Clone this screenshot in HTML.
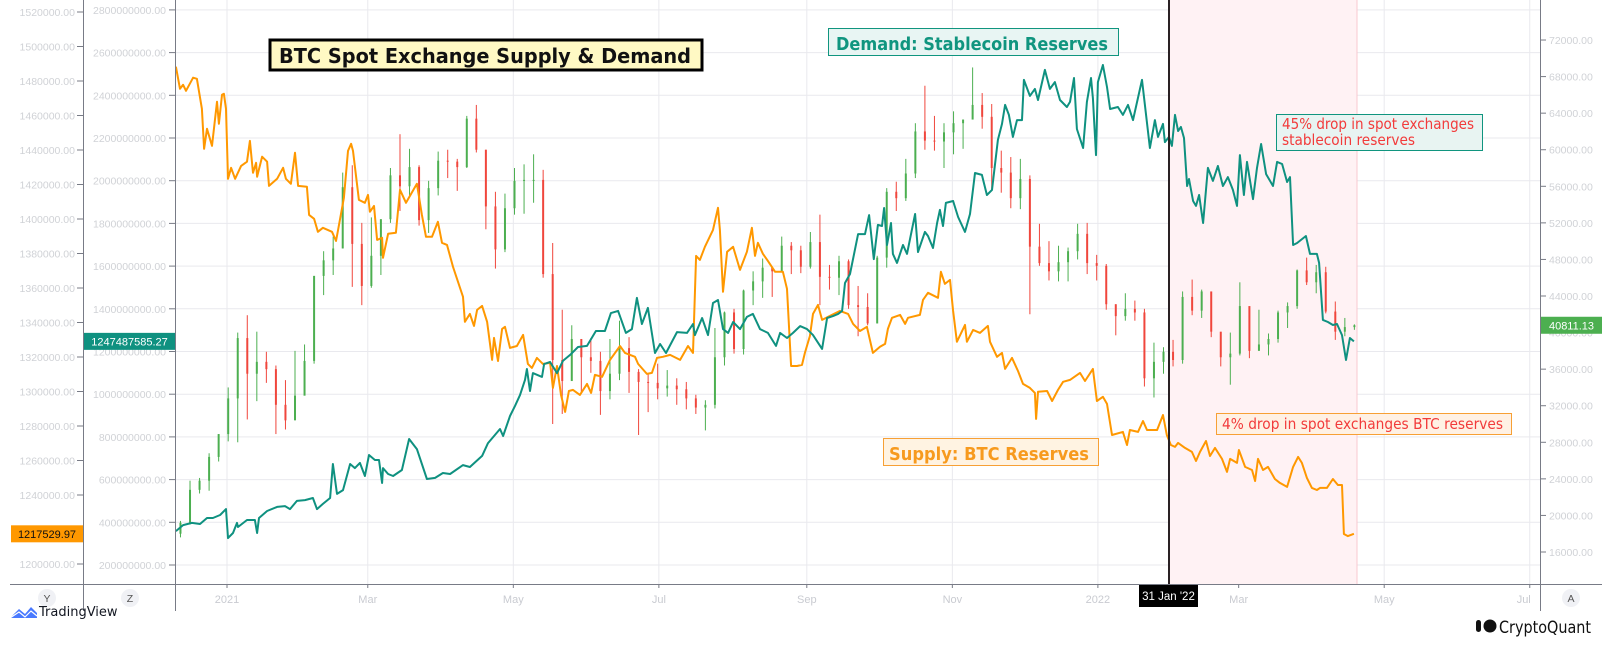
<!DOCTYPE html>
<html><head><meta charset="utf-8">
<style>
html,body{margin:0;padding:0;background:#fff;}
svg{display:block;font-family:"Liberation Sans","DejaVu Sans",sans-serif;}
</style></head>
<body>
<svg id="chart" width="1612" height="646" viewBox="0 0 1612 646" xmlns="http://www.w3.org/2000/svg">
  <g id="grid"></g>
  <rect x="1169" y="0" width="188" height="584" fill="#fff2f4"/>
  <line x1="1357" y1="0" x2="1357" y2="584" stroke="#f8c8cf" stroke-width="1"/>
  <g id="candles"></g>
  <g id="lines"></g>
  <line x1="1169" y1="0" x2="1169" y2="584" stroke="#2a2124" stroke-width="2"/>
  <g id="axes"></g>

  <g>
    <rect x="270" y="40" width="432" height="30" fill="#fff9c4" stroke="#000" stroke-width="3"/>
    <text x="279" y="63" font-family="DejaVu Sans" font-weight="bold" font-size="20" fill="#111" textLength="412" lengthAdjust="spacingAndGlyphs">BTC Spot Exchange Supply &amp; Demand</text>
  </g>
  <g>
    <rect x="828.5" y="28.5" width="290" height="27" fill="#e8f5f3" stroke="#10957f" stroke-width="1"/>
    <text x="836" y="50" font-family="DejaVu Sans" font-weight="bold" font-size="18" fill="#10957f" textLength="272" lengthAdjust="spacingAndGlyphs">Demand: Stablecoin Reserves</text>
  </g>
  <g>
    <rect x="883.5" y="438.5" width="215" height="27" fill="#fff3e2" stroke="#f7a035" stroke-width="1"/>
    <text x="889" y="460" font-family="DejaVu Sans" font-weight="bold" font-size="18" fill="#f79a1e" textLength="200" lengthAdjust="spacingAndGlyphs">Supply: BTC Reserves</text>
  </g>
  <g>
    <rect x="1276.5" y="114.5" width="206" height="36" fill="#e8f4f2" stroke="#10957f" stroke-width="1"/>
    <text x="1282" y="129" font-family="DejaVu Sans" font-size="15" fill="#f23b3b" textLength="192" lengthAdjust="spacingAndGlyphs">45% drop in spot exchanges</text>
    <text x="1282" y="145" font-family="DejaVu Sans" font-size="15" fill="#f23b3b" textLength="133" lengthAdjust="spacingAndGlyphs">stablecoin reserves</text>
  </g>
  <g>
    <rect x="1216.5" y="413.5" width="295" height="21" fill="#fff1e4" stroke="#f7a035" stroke-width="1"/>
    <text x="1222" y="429" font-family="DejaVu Sans" font-size="15" fill="#f23b3b" textLength="281" lengthAdjust="spacingAndGlyphs">4% drop in spot exchanges BTC reserves</text>
  </g>

  <g>
    <rect x="1139" y="585" width="59" height="22" fill="#000"/>
    <text x="1168.5" y="600" text-anchor="middle" font-size="11.5" fill="#fff">31 Jan '22</text>
  </g>

  <g>
    <circle cx="47" cy="598" r="9" fill="#f0f1f5"/>
    <text x="47" y="602" text-anchor="middle" font-size="10.5" fill="#555">Y</text>
  </g>
  <g>
    <circle cx="130" cy="598" r="9" fill="#f0f1f5"/>
    <text x="130" y="602" text-anchor="middle" font-size="10.5" fill="#555">Z</text>
  </g>
  <g>
    <circle cx="1571" cy="598" r="9" fill="#f0f1f5"/>
    <text x="1571" y="602" text-anchor="middle" font-size="10.5" fill="#555">A</text>
  </g>

  <g>
    <path d="M10 618 L19 609 L25 614 L31 607 L37 613 L37 618 Z" fill="#2962ff" opacity="0.85"/>
    <path d="M10 618 L19 612 L25 617 L31 611 L37 616" stroke="#fff" stroke-width="1.2" fill="none"/>
    <text x="39" y="616" font-family="DejaVu Sans" font-size="13" fill="#131722">TradingView</text>
  </g>
  <g>
    <rect x="1476" y="620" width="5" height="12" rx="2.5" fill="#111"/>
    <circle cx="1490" cy="626" r="6.5" fill="#111"/>
    <text x="1499" y="633" font-family="DejaVu Sans" font-size="17" fill="#111" textLength="92" lengthAdjust="spacingAndGlyphs">CryptoQuant</text>
  </g>
</svg>
<script>
// ---- data ----
const supplyDays = [-21.4,-19.7,-18.4,-17.2,-14.2,-12.6,-10.5,-9.6,-8.4,-6.3,-4.2,-3.4,-2.1,-1.3,-0.4,0.4,1.7,3.4,5.9,8.4,9.6,10.9,12.2,12.6,14.7,16.8,17.6,21.0,23.5,24.7,26.8,28.5,29.8,33.5,34.4,36.5,38.1,40.2,44.0,45.7,46.5,49.0,50.7,52.0,52.8,55.3,57.8,59.1,59.9,61.6,62.9,65.0,65.4,67.5,70.8,72.5,75.0,79.6,81.7,83.4,85.9,88.4,90.1,92.2,94.7,98.9,99.7,101.8,103.5,104.8,106.9,109.0,111.1,111.9,113.6,115.3,116.5,118.6,121.5,124.1,126.1,127.8,129.9,132.4,135.4,136.6,138.3,140.0,141.7,143.3,145.0,147.9,150.9,152.6,154.2,157.2,160.5,164.7,166.8,171.0,172.3,176.0,178.1,180.2,182.7,185.7,189.9,193.2,195.3,196.6,198.2,200.3,203.7,205.8,206.6,207.9,209.6,212.1,215.0,217.9,220.0,221.3,222.5,224.6,226.7,229.7,233.0,234.7,236.4,238.9,241.0,242.2,244.3,245.6,247.7,249.4,252.7,256.9,260.3,262.4,265.3,268.2,270.7,273.7,275.8,277.0,278.7,282.1,284.2,285.4,290.4,291.7,293.8,298.0,299.2,300.9,303.0,304.3,305.9,309.3,310.1,312.7,315.6,318.9,319.8,322.7,324.8,326.1,329.0,331.5,333.6,336.5,338.6,339.1,339.9,343.7,345.8,348.3,350.4,353.3,357.5,359.6,362.9,364.6,367.1,368.8,370.9,375.5,377.2,378.4,381.8,383.9,385.6,389.8,392.3,393.9,395.6,397.3,398.6,401.5,404.4,406.1,407.8,410.3,412.0,414.1,417.0,419.1,420.4,423.3,424.1,426.7,429.6,430.9,432.1,434.2,436.3,439.2,441.3,444.3,446.8,448.9,450.5,452.6,454.7,456.8,458.1,461.0,463.5,465.6,467.3,468.1,469.8,472.3];
const supplyValues = [1488.3,1475.5,1477.8,1474.3,1481.9,1481.3,1463.9,1440.7,1452.3,1442.4,1468.0,1455.2,1472.0,1472.6,1463.9,1423.3,1429.7,1423.3,1430.8,1433.2,1445.3,1426.8,1432.6,1424.5,1436.1,1433.2,1419.2,1423.3,1429.7,1423.3,1420.4,1438.4,1419.2,1418.7,1402.4,1400.1,1392.6,1394.9,1392.6,1387.3,1393.1,1412.3,1439.5,1443.6,1439.5,1411.1,1409.4,1414.0,1404.2,1407.6,1387.9,1389.1,1377.5,1391.4,1392.0,1416.9,1409.4,1420.4,1402.4,1389.7,1389.7,1398.4,1386.2,1385.0,1372.3,1354.9,1340.4,1345.0,1338.0,1347.3,1349.6,1340.4,1318.3,1331.1,1317.7,1336.3,1337.5,1325.3,1326.4,1332.8,1316.0,1313.7,1319.5,1316.0,1316.6,1302.1,1314.8,1298.0,1288.2,1300.3,1300.9,1298.0,1304.4,1299.2,1309.6,1308.5,1318.3,1326.4,1322.4,1320.1,1316.0,1310.2,1310.8,1319.5,1320.1,1321.2,1318.3,1326.4,1322.4,1378.6,1376.3,1383.9,1393.7,1406.5,1393.7,1357.8,1381.0,1383.9,1370.5,1381.0,1394.9,1378.6,1386.2,1379.8,1375.7,1369.4,1369.4,1359.5,1314.8,1314.8,1315.4,1322.4,1332.2,1345.0,1350.2,1341.5,1343.8,1346.7,1345.0,1339.2,1335.1,1337.5,1322.4,1325.9,1327.6,1336.3,1342.7,1344.4,1339.2,1342.7,1344.4,1353.1,1357.2,1354.3,1369.4,1362.4,1364.7,1346.7,1328.8,1338.6,1328.8,1335.7,1334.0,1338.0,1328.8,1320.1,1322.4,1313.1,1319.5,1311.9,1304.4,1302.1,1299.2,1284.1,1299.8,1300.3,1294.5,1300.9,1305.6,1306.7,1310.8,1306.1,1313.1,1294.5,1296.9,1292.8,1274.8,1276.6,1269.0,1277.7,1276.6,1282.9,1277.7,1277.7,1286.4,1274.8,1269.0,1267.9,1270.2,1267.3,1265.0,1259.7,1265.0,1271.3,1262.6,1267.3,1260.9,1253.4,1260.9,1258.6,1266.1,1256.3,1254.5,1248.1,1260.9,1254.5,1256.3,1249.3,1247.0,1244.7,1256.3,1262.1,1258.6,1249.9,1244.1,1242.9,1244.1,1244.1,1249.3,1245.8,1245.8,1217.4,1216.2,1217.5];
const demandDays = [-21.4,-18.4,-14.7,-11.3,-8.4,-5.9,-2.9,-0.4,0.4,2.5,4.2,4.6,8.4,11.7,12.6,13.4,16.8,21.0,24.3,26.4,29.3,32.7,36.0,37.7,40.2,43.2,44.4,46.1,48.6,51.6,53.6,55.7,57.8,59.5,62.0,63.7,65.0,65.4,67.5,69.6,73.3,76.3,79.6,83.8,87.2,90.5,93.5,98.9,101.8,106.9,109.4,114.4,115.7,118.6,120.7,122.8,124.9,125.7,127.0,128.2,132.0,132.9,135.4,138.3,140.8,143.8,147.1,150.9,154.6,158.4,160.9,163.9,167.2,169.7,171.8,173.9,176.4,179.4,181.5,184.0,188.6,192.8,195.3,196.1,199.1,201.6,203.7,205.8,207.9,210.0,212.1,215.0,217.9,220.4,223.4,226.7,230.1,231.8,234.7,237.2,240.2,243.1,245.6,249.4,251.5,254.0,256.1,257.8,259.0,261.1,264.5,267.4,269.1,271.1,272.8,274.5,275.4,276.6,278.3,279.1,280.8,283.3,285.0,288.4,289.6,292.5,293.8,295.9,297.6,298.8,300.1,301.3,304.3,306.4,309.3,311.4,313.5,316.4,318.5,320.6,323.1,324.8,326.1,327.7,329.4,331.1,333.2,334.0,336.5,338.6,339.9,342.8,344.9,347.0,349.1,352.0,353.3,355.0,356.2,358.8,360.4,362.1,362.9,364.2,365.0,367.1,368.8,370.1,373.4,375.5,377.6,379.7,383.5,386.8,388.9,390.2,392.3,393.1,394.8,396.0,397.3,398.6,399.8,401.1,402.4,403.2,404.9,406.1,407.4,409.1,411.1,413.2,415.3,417.4,419.5,421.6,423.3,424.5,426.2,427.5,430.0,431.7,433.4,435.5,438.4,440.1,442.2,444.3,445.5,446.8,448.5,452.2,453.9,456.8,457.7,459.3,461.4,463.5,465.2,467.3,469.0,470.6,472.3];
const demandValues = [359,387,397,392,420,420,434,462,326,350,397,378,411,411,350,420,453,472,476,462,500,504,514,462,486,514,673,533,551,673,654,678,617,715,692,692,584,654,626,617,645,790,743,603,608,631,626,668,659,711,771,837,804,898,945,996,1067,1118,1015,1099,1081,1141,1151,1099,1156,1184,1221,1226,1296,1296,1380,1390,1287,1305,1451,1329,1404,1193,1235,1193,1291,1287,1329,1277,1357,1277,1427,1441,1305,1287,1338,1305,1362,1376,1305,1287,1226,1287,1263,1287,1319,1305,1277,1212,1357,1366,1376,1390,1521,1563,1750,1750,1839,1633,1793,1788,1872,1699,1802,1657,1615,1699,1657,1844,1666,1760,1741,1685,1802,1863,1788,1896,1905,1830,1760,1844,2036,2027,1933,1957,2191,2266,2355,2308,2205,2284,2284,2472,2397,2430,2378,2519,2430,2462,2378,2345,2369,2481,2242,2153,2369,2481,2387,2120,2462,2542,2439,2336,2345,2308,2355,2284,2472,2153,2284,2205,2266,2181,2205,2163,2308,2233,2252,2200,1975,2008,1905,1882,1933,1802,2060,1999,2069,1975,2017,1957,1882,2120,1933,2088,1914,2060,2172,2031,1975,2088,2078,1994,2017,1699,1708,1741,1657,1657,1615,1348,1338,1324,1329,1277,1160,1263,1247.5];
// BTC price candles, 4-day periods starting 2020-12-11 (day -21), values in thousands USD
const candleFirstOpen = 18.0;
const candleClose = [19.2,22.8,23.8,26.4,28.9,32.8,39.4,35.5,36.8,36.0,32.1,30.4,33.1,36.9,46.2,47.9,49.2,55.9,49.7,45.1,48.4,52.4,57.2,56.0,58.1,52.3,55.8,58.8,58.7,58.1,63.4,60.0,53.8,49.1,53.6,56.6,56.7,56.7,46.4,37.0,34.7,39.3,37.3,36.9,33.6,35.5,38.3,35.7,34.6,34.5,33.9,34.2,33.8,32.8,31.8,32.1,37.3,42.2,38.2,44.6,45.6,47.1,46.7,49.5,49.0,47.2,49.9,46.1,46.0,47.8,43.0,42.8,41.0,48.2,55.4,54.7,57.4,62.0,61.0,60.9,61.9,62.9,63.3,64.9,63.6,58.0,57.5,54.7,56.8,49.4,47.6,46.7,47.7,48.9,50.8,47.6,47.3,43.1,41.8,42.6,42.2,35.0,36.8,37.9,37.0,43.9,42.4,44.5,40.1,37.3,37.7,42.9,38.0,38.7,39.3,42.2,42.9,46.8,45.5,46.6,42.3,40.1,40.6,40.8];
const candleHigh = [19.4,23.8,24.1,26.8,28.9,34.0,40.0,41.9,40.1,37.9,36.4,34.8,38.0,38.7,46.2,48.9,50.5,57.5,58.3,52.0,52.6,52.4,58.0,61.7,60.1,58.3,56.6,59.8,60.0,59.0,63.7,64.9,60.0,55.4,55.2,58.0,58.4,59.5,57.8,49.8,42.5,40.8,38.9,39.4,37.9,39.3,41.3,39.5,36.0,35.5,36.6,35.9,35.0,34.6,33.2,32.6,40.5,42.3,42.6,44.7,46.7,48.1,47.1,50.5,49.9,49.5,51.0,52.9,47.4,48.4,48.0,45.1,44.3,48.4,55.8,56.5,59.0,62.9,67.0,63.7,62.9,64.2,63.3,69.0,66.2,65.0,59.9,59.2,59.0,57.2,51.9,50.0,49.5,49.3,51.9,52.0,48.5,47.5,43.1,44.3,43.5,42.6,38.9,38.4,39.2,44.5,45.8,44.7,44.2,40.0,40.0,45.5,42.5,42.5,39.9,42.4,43.3,46.9,48.2,47.4,47.2,43.4,41.6,40.9];
const candleLow = [17.6,19.0,22.4,22.7,25.9,28.1,28.0,30.5,32.5,34.5,28.9,29.4,31.9,33.4,36.6,44.1,46.3,49.2,45.0,43.0,44.9,46.3,52.0,53.3,55.0,51.7,50.9,55.0,56.9,55.5,58.0,59.7,51.3,47.0,48.8,52.9,53.0,54.2,46.0,30.0,31.1,34.9,33.4,35.6,31.0,32.7,34.8,33.4,28.8,31.3,32.7,33.0,32.1,31.6,31.1,29.3,31.7,36.4,37.7,37.6,43.0,43.8,43.9,46.7,46.4,46.5,47.0,43.0,44.7,44.1,42.6,39.6,40.8,41.0,47.1,53.3,54.4,56.9,60.0,59.9,58.0,59.5,60.1,63.4,62.3,55.6,55.3,53.6,53.5,42.0,47.3,45.7,45.6,45.6,48.0,46.4,45.7,42.5,39.7,41.3,41.3,34.1,32.9,35.5,36.3,36.6,41.9,41.6,39.5,36.3,34.3,37.5,37.2,38.2,37.5,38.9,40.5,42.6,45.2,44.3,42.1,39.2,39.6,40.3];
const axis1Ticks = [1200000,1220000,1240000,1260000,1280000,1300000,1320000,1340000,1360000,1380000,1400000,1420000,1440000,1460000,1480000,1500000,1520000];
const axis2Ticks = [200000000,400000000,600000000,800000000,1000000000,1200000000,1400000000,1600000000,1800000000,2000000000,2200000000,2400000000,2600000000,2800000000];
const priceTicks = [16000,20000,24000,28000,32000,36000,40000,44000,48000,52000,56000,60000,64000,68000,72000];
const monthDays = [0,59,120,181,243,304,365,424,485,546];
const monthLabels = ["2021","Mar","May","Jul","Sep","Nov","2022","Mar","May","Jul"];
const lastSupply = "1217529.97";
const lastDemand = "1247487585.27";
const lastPrice = "40811.13";

// ---- scales ----
const NS = "http://www.w3.org/2000/svg";
const xOf = d => 227 + d * 2.386;
const ySupply = v => 564 - (v - 1200) / 20 * 34.5;          // thousands BTC
const yDemand = v => 565 - (v - 200) / 200 * 42.7;          // millions USD
const yPrice = p => 552 - (p - 16) / 4 * 36.57;             // thousands USD
function mk(tag, attrs, parent) {
  const e = document.createElementNS(NS, tag);
  for (const k in attrs) e.setAttribute(k, attrs[k]);
  parent.appendChild(e);
  return e;
}
const grid = document.getElementById("grid");
const axes = document.getElementById("axes");
const candles = document.getElementById("candles");
const lines = document.getElementById("lines");

// gridlines
monthDays.forEach((d, i) => {
  const x = xOf(d);
  const g = mk("line", {x1: x, y1: 0, x2: x, y2: 584, stroke: "#e9e9ee", "stroke-width": 1}, grid);
  
  
  const t = mk("line", {x1: x, y1: 584, x2: x, y2: 588, stroke: "#787b86", "stroke-width": 1}, axes);
  
  
  const lbl = mk("text", {x: i === monthDays.length - 1 ? x + 1 : x, y: 603, "text-anchor": i === monthDays.length - 1 ? "end" : "middle", "font-size": 11, fill: "#c9cbd1"}, axes);
  lbl.textContent = monthLabels[i];
  
  
});
axis2Ticks.forEach(v => {
  const y = yDemand(v / 1e6);
  const g = mk("line", {x1: 176, y1: y, x2: 1540, y2: y, stroke: "#e9e9ee", "stroke-width": 1}, grid);
  
  
});

// axes
function axisLine(x1, y1, x2, y2, name) {
  const l = mk("line", {x1, y1, x2, y2, stroke: "#787b86", "stroke-width": 1}, axes);
  
  
}
axisLine(83.5, 0, 83.5, 611, "supply-axis-line");
axisLine(175.5, 0, 175.5, 611, "demand-axis-line");
axisLine(1540.5, 0, 1540.5, 611, "price-axis-line");
axisLine(10, 584.5, 1602, 584.5, "x-axis-line");

axis1Ticks.forEach(v => {
  const y = ySupply(v / 1000);
  mk("line", {x1: 77, y1: y, x2: 83, y2: y, stroke: "#787b86"}, axes);
  const t = mk("text", {x: 75, y: y + 4, "text-anchor": "end", "font-size": 10.5, fill: "#d0d2d6"}, axes);
  t.textContent = v.toFixed(2);
  
  
});
axis2Ticks.forEach(v => {
  const y = yDemand(v / 1e6);
  mk("line", {x1: 169, y1: y, x2: 175, y2: y, stroke: "#787b86"}, axes);
  const t = mk("text", {x: 166, y: y + 4, "text-anchor": "end", "font-size": 10.5, fill: "#d0d2d6"}, axes);
  t.textContent = v.toFixed(2);
  
  
});
priceTicks.forEach(v => {
  const y = yPrice(v / 1000);
  mk("line", {x1: 1541, y1: y, x2: 1546, y2: y, stroke: "#787b86"}, axes);
  const t = mk("text", {x: 1549, y: y + 4, "font-size": 10.5, fill: "#d0d2d6"}, axes);
  t.textContent = v.toFixed(2);
  
  
});

// candles
let prev = candleFirstOpen;
candleClose.forEach((c, i) => {
  const o = prev;
  prev = c;
  const x = xOf(-21 + i * 4 + 1.5);
  const up = c >= o;
  const col = up ? "#4caf50" : "#f0463c";
  const w = mk("line", {x1: x, y1: yPrice(candleHigh[i]), x2: x, y2: yPrice(candleLow[i]), stroke: col, "stroke-width": 1}, candles);
  
  
  const top = yPrice(Math.max(o, c)), bot = yPrice(Math.min(o, c));
  const b = mk("rect", {x: x - 1, y: top, width: 2, height: Math.max(1, bot - top), fill: col}, candles);
  
  
});

// lines
const supplyPath = mk("path", {d: supplyDays.map((d, i) => (i ? "L" : "M") + xOf(d).toFixed(1) + " " + ySupply(supplyValues[i]).toFixed(1)).join(" "), fill: "none", stroke: "#ff9800", "stroke-width": 2, "stroke-linejoin": "round"}, lines);


const demandPath = mk("path", {d: demandDays.map((d, i) => (i ? "L" : "M") + xOf(d).toFixed(1) + " " + yDemand(demandValues[i]).toFixed(1)).join(" "), fill: "none", stroke: "#0f9180", "stroke-width": 2, "stroke-linejoin": "round"}, lines);



// last value badges
function badge(x, w, yc, fill, color, text, name) {
  const g = mk("g", {}, axes);
  
  
  mk("rect", {x, y: yc - 8.5, width: w, height: 17, fill}, g);
  const t = mk("text", {x: x + w / 2, y: yc + 4, "text-anchor": "middle", "font-size": 11, fill: color}, g);
  t.textContent = text;
}
badge(11, 72, ySupply(supplyValues[supplyValues.length - 1]), "#ff9800", "#111", lastSupply, "supply-last-value-badge");
badge(84, 91, yDemand(demandValues[demandValues.length - 1]), "#0f9180", "#fff", lastDemand, "demand-last-value-badge");
badge(1541, 61, yPrice(candleClose[candleClose.length - 1]), "#4caf50", "#fff", lastPrice, "price-last-value-badge");
</script>
</body></html>
